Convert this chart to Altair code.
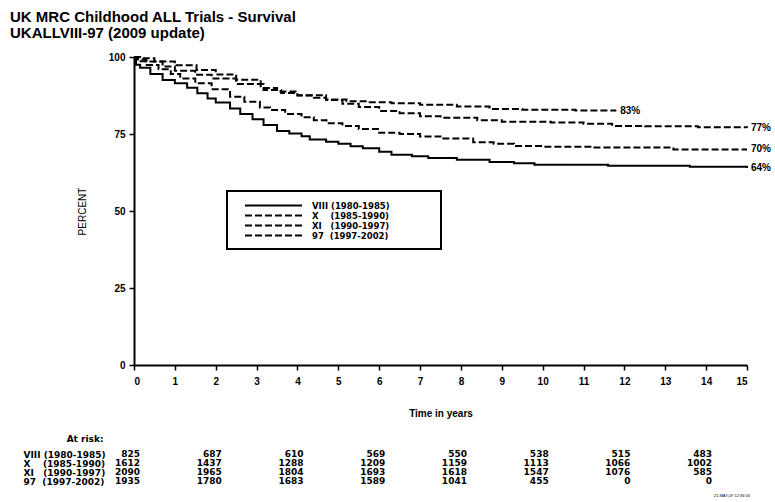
import altair as alt
import pandas as pd

FONT = "Liberation Sans"
TFONT = "DejaVu Sans"
NB = "\u00a0"
ZW = "\u200b"

title_lines = ["UK MRC Childhood ALL Trials - Survival", "UKALLVIII-97 (2009 update)"]
series_names = ["VIII", "X", "XI", "97"]
row_labels = [
    "VIII" + NB + "(1980-1985)",
    "X" + NB * 4 + "(1985-1990)",
    "XI" + NB * 3 + "(1990-1997)",
    "97" + NB * 2 + "(1997-2002)",
]
legend_labels = [r + NB * 14 + ZW for r in row_labels]
end_labels = ["64%", "77%", "70%", "83%"]
timestamp = "21-MAY-09 12:36:56"

# Kaplan-Meier survival curves (percent)
viii_t = [0, 0.05, 0.15, 0.4, 0.7, 1.0, 1.3, 1.55, 1.8, 2.0, 2.35, 2.6, 2.9, 3.17, 3.5, 3.8, 4.1, 4.3,
          4.7, 5.0, 5.3, 5.6, 6.0, 6.3, 6.8, 7.2, 7.9, 8.7, 9.3, 9.8, 11.6, 13.6, 15]
viii_s = [100, 97.5, 96.5, 94.5, 92.5, 91.5, 90, 88.2, 86.5, 85.2, 83.3, 81.5, 79.8, 77.9, 76, 75.2, 74.3, 73.2,
          72.5, 71.8, 71, 70.4, 69.2, 68.3, 67.8, 67.2, 66.6, 65.9, 65.5, 65, 64.7, 64.4, 64]

x_t = [0, 0.1, 0.3, 0.7, 1.0, 1.5, 1.9, 2.5, 3.17, 3.6, 4.0, 4.4, 4.7, 5.1, 5.5, 6.0, 6.5, 7.0, 7.5,
       8.4, 9.0, 10.2, 11.0, 11.7, 12.5, 13.8, 15]
x_s = [100, 99.2, 98.5, 96.9, 95.5, 94.2, 93, 91.2, 89.3, 88.3, 87.5, 86.8, 86, 84.8, 83.8, 82.5, 81.7, 80.8, 80.3,
       79.5, 79, 78.7, 78.3, 77.6, 77.5, 77.2, 77]

xi_t = [0, 0.1, 0.31, 0.6, 0.9, 1.13, 1.5, 1.9, 2.35, 2.7, 3.08, 3.33, 3.7, 4.1, 4.4, 4.71, 5.1, 5.5,
        6.0, 6.5, 7.0, 7.5, 8.3, 8.8, 9.3, 10.0, 11.2, 13.2, 15]
xi_s = [100, 98.6, 97.4, 96, 94.5, 93, 91.5, 89.5, 87.1, 85.5, 83.6, 82.8, 81.5, 80.4, 79.5, 78.5, 77.6, 76.6,
        75.4, 75, 74.2, 73.5, 72.3, 71.8, 71.1, 70.9, 70.6, 70, 70]

t97_t = [0, 0.15, 0.5, 1.0, 1.53, 2.0, 2.5, 3.1, 3.5, 4.0, 4.7, 5.2, 5.7, 6.3, 7.0, 7.9, 8.7, 9.5, 10.8, 11.8]
t97_s = [100, 99.6, 98.5, 97.3, 95.8, 94.3, 92.6, 89.9, 88.8, 87.6, 86.2, 85.6, 85.3, 85, 84.5, 83.9, 83.1, 82.9,
         82.6, 82.6]

curves_t = [viii_t, x_t, xi_t, t97_t]
curves_s = [viii_s, x_s, xi_s, t97_s]

# Numbers at risk
risk_times = [0, 2, 4, 6, 8, 10, 12, 14]
risk_viii = [825, 687, 610, 569, 550, 538, 515, 483]
risk_x = [1612, 1437, 1288, 1209, 1159, 1113, 1066, 1002]
risk_xi = [2090, 1965, 1804, 1693, 1618, 1547, 1076, 585]
risk_97 = [1935, 1780, 1683, 1589, 1041, 455, 0, 0]
risk_all = [risk_viii, risk_x, risk_xi, risk_97]

# ---- build tables ----
rows = []
for name, leg, ts, ss in zip(series_names, legend_labels, curves_t, curves_s):
    for t, s in zip(ts, ss):
        rows.append({"series": name, "legend": leg, "t": t, "s": s})
df = pd.DataFrame(rows)

df_end = pd.DataFrame([
    {"t": ts[-1], "s": ss[-1], "label": lab}
    for ts, ss, lab in zip(curves_t, curves_s, end_labels)
])

df_risk = pd.DataFrame([
    {"t": t, "row": rl, "n": str(n)}
    for rl, vals in zip(row_labels, risk_all)
    for t, n in zip(risk_times, vals)
])

df_stamp = pd.DataFrame({"text": [timestamp]})

x_enc = alt.X(
    "t:Q",
    scale=alt.Scale(domain=[0, 15], nice=False, zero=True),
    axis=alt.Axis(
        values=list(range(16)), title="Time in years", tickSize=5, labelPadding=6,
        labelFont=FONT, labelFontSize=10, labelFontWeight="bold",
        titleFont=FONT, titleFontSize=10, titleFontWeight="bold", titlePadding=22,
        grid=False,
    ),
)

lines = alt.Chart(df).mark_line(
    color="black", strokeWidth=2, interpolate="step-after"
).encode(
    x=x_enc,
    y=alt.Y(
        "s:Q",
        scale=alt.Scale(domain=[0, 100], nice=False),
        axis=alt.Axis(
            values=[0, 25, 50, 75, 100], title="PERCENT", tickSize=5, labelPadding=4,
            labelFont=FONT, labelFontSize=10, labelFontWeight="bold",
            titleFont=FONT, titleFontSize=10, titleFontWeight="normal", titlePadding=21,
            grid=False,
        ),
    ),
    strokeDash=alt.StrokeDash(
        "legend:N",
        scale=alt.Scale(domain=legend_labels, range=[[1, 0], [7, 3], [7, 3], [7, 3]]),
        legend=alt.Legend(
            title=None, orient="none", legendX=93, legendY=134,
            symbolType="M-6.33,0H6.33", symbolSize=81, symbolStrokeWidth=2,
            symbolStrokeColor="black", symbolFillColor="transparent",
            symbolOffset=32, labelOffset=33,
            labelFont=TFONT, labelFontSize=8.5, labelFontWeight="bold", labelColor="black",
            labelLimit=300,
            rowPadding=0, padding=9, strokeColor="black",
        ),
    ),
    detail="series:N",
)

end_text = alt.Chart(df_end).mark_text(
    align="left", baseline="middle", dx=4, font=FONT, fontSize=10, fontWeight="bold", color="black"
).encode(
    x=alt.X("t:Q"),
    y=alt.Y("s:Q", scale=alt.Scale(domain=[0, 100], nice=False), axis=None),
    text="label:N",
)

risk_text = alt.Chart(df_risk).mark_text(
    align="right", baseline="middle", dx=6, font=TFONT, fontSize=9, fontWeight="bold", color="black"
).encode(
    x=alt.X("t:Q"),
    y=alt.Y(
        "row:N",
        scale=alt.Scale(type="point", domain=row_labels, range=[397, 424.3], padding=0),
        axis=alt.Axis(
            orient="left", domain=False, ticks=False, tickSize=0, grid=False,
            labelAlign="left", labelBaseline="middle", labelPadding=111, labelOverlap=False,
            labelFont=TFONT, labelFontSize=9, labelFontWeight="bold", labelColor="black",
            title="At risk:", titleAngle=0, titleAlign="right", titleBaseline="middle",
            titleX=-31, titleY=381.7, titleFont=TFONT, titleFontSize=9, titleFontWeight="bold",
        ),
    ),
    text="n:N",
)

stamp = alt.Chart(df_stamp).mark_text(
    align="right", baseline="middle", font=FONT, fontSize=4, color="black"
).encode(
    x=alt.value(616), y=alt.value(438.5), text="text:N"
)

chart = alt.layer(lines, end_text, risk_text, stamp).resolve_scale(
    y="independent"
).properties(
    width=613,
    height=308,
    autosize=alt.AutoSizeParams(type="none"),
    padding={"left": 134, "top": 57, "right": 28, "bottom": 137},
    title=alt.Title(
        title_lines, anchor="start", frame="group", dx=-124, offset=11,
        font=FONT, fontSize=15, fontWeight="bold", lineHeight=16, color="black",
    ),
    background="white",
).configure_view(
    stroke=None
).configure_axis(
    domainColor="black", domainWidth=2, tickColor="black", tickWidth=1.5,
    labelColor="black", titleColor="black",
).configure_legend(
    strokeWidth=2
)

chart.save("out.html", embed_options={"renderer": "svg", "actions": False})
